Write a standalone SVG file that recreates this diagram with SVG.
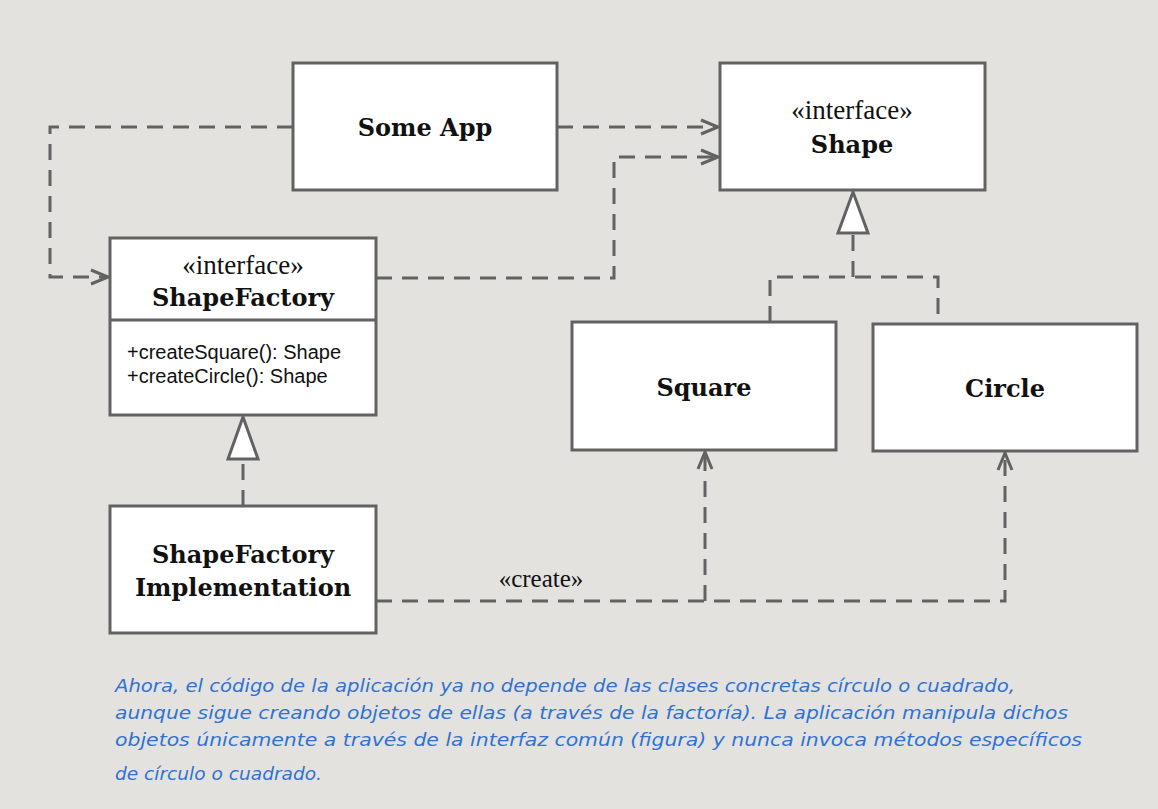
<svg xmlns="http://www.w3.org/2000/svg" width="1158" height="809" viewBox="0 0 1158 809">
<style>
.box{fill:#ffffff;stroke:#626262;stroke-width:3}
.ln{fill:none;stroke:#626262;stroke-width:3;stroke-dasharray:16 10}
.solid{fill:none;stroke:#626262;stroke-width:3}
.tri{fill:#ffffff;stroke:#626262;stroke-width:3;stroke-linejoin:miter}
.name{font-family:"DejaVu Serif","Liberation Serif",serif;font-weight:bold;font-size:24px;fill:#111;text-anchor:middle}
.ster{font-family:"Liberation Serif",serif;font-size:27px;fill:#111;text-anchor:middle}
.meth{font-family:"Liberation Sans",Arial,sans-serif;font-size:20px;fill:#111}
.note{font-family:"DejaVu Sans","Liberation Sans",sans-serif;font-style:italic;font-size:18px;fill:#2f72d4}
</style>
<defs>
<marker id="open" viewBox="0 0 20 20" refX="19" refY="10" markerWidth="20" markerHeight="20" markerUnits="userSpaceOnUse" orient="auto">
<path d="M2,3 L19,10 L2,17" fill="none" stroke="#626262" stroke-width="3"/>
</marker>
</defs>
<rect width="1158" height="809" fill="#e3e2de"/>

<g id="connectors">
<path class="ln" d="M293,127 H50 V277 H108" marker-end="url(#open)"/>
<path class="ln" d="M557,127 H718" marker-end="url(#open)"/>
<path class="ln" d="M376,278 H614 V157 H718" marker-end="url(#open)"/>
<path class="ln" d="M770,322 V277 H938 V324"/>
<path class="ln" d="M853,277 V233"/>
<path class="tri" d="M853,192 L868,233 L838,233 Z"/>
<path class="ln" d="M243,506 V459"/>
<path class="tri" d="M243,417 L258,459 L228,459 Z"/>
<path class="ln" d="M376,601 H1005 V453" marker-end="url(#open)"/>
<path class="ln" d="M705,601 V452" marker-end="url(#open)"/>
<text class="ster" x="541" y="587" style="font-size:25px">«create»</text>
</g>

<g id="some-app">
<rect class="box" x="293" y="63" width="264" height="127"/>
<text class="name" x="425" y="136">Some App</text>
</g>

<g id="shape">
<rect class="box" x="720" y="63" width="265" height="127"/>
<text class="ster" x="852" y="119">«interface»</text>
<text class="name" x="852" y="153">Shape</text>
</g>

<g id="shape-factory">
<rect class="box" x="110" y="238" width="266" height="177"/>
<line class="solid" x1="110" y1="320" x2="376" y2="320"/>
<text class="ster" x="243" y="274">«interface»</text>
<text class="name" x="243" y="306">ShapeFactory</text>
<text class="meth" x="127" y="359">+createSquare(): Shape</text>
<text class="meth" x="127" y="383">+createCircle(): Shape</text>
</g>

<g id="square">
<rect class="box" x="572" y="322" width="264" height="128"/>
<text class="name" x="704" y="396">Square</text>
</g>

<g id="circle">
<rect class="box" x="873" y="324" width="264" height="127"/>
<text class="name" x="1005" y="397">Circle</text>
</g>

<g id="shape-factory-impl">
<rect class="box" x="110" y="506" width="266" height="127"/>
<text class="name" x="243" y="563">ShapeFactory</text>
<text class="name" x="243" y="596">Implementation</text>
</g>

<g id="note">
<text class="note" x="115" y="692" textLength="900" lengthAdjust="spacingAndGlyphs">Ahora, el código de la aplicación ya no depende de las clases concretas círculo o cuadrado,</text>
<text class="note" x="115" y="719" textLength="953" lengthAdjust="spacingAndGlyphs">aunque sigue creando objetos de ellas (a través de la factoría). La aplicación manipula dichos</text>
<text class="note" x="115" y="746" textLength="967" lengthAdjust="spacingAndGlyphs">objetos únicamente a través de la interfaz común (figura) y nunca invoca métodos específicos</text>
<text class="note" x="115" y="780" textLength="207" lengthAdjust="spacingAndGlyphs">de círculo o cuadrado.</text>
</g>
</svg>
